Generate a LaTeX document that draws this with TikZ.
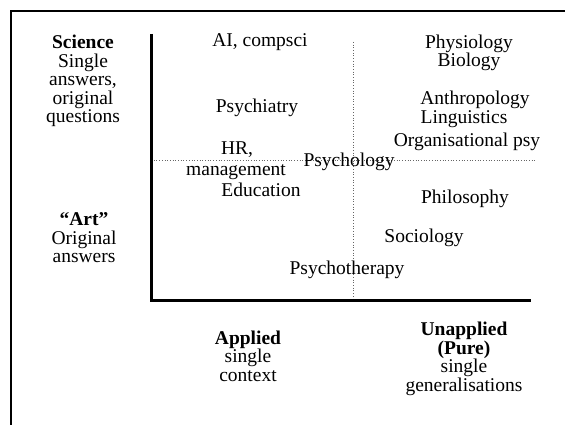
\documentclass[tikz,border=0pt]{standalone}
\usepackage{fontspec}
\setmainfont{Liberation Serif}

\begin{document}
\begin{tikzpicture}[x=1pt,y=-1pt,
        lbl/.style={align=center,inner sep=0pt,font=\fontsize{19.5}{18.5}\selectfont},
        axisline/.style={line width=3pt},
        guide/.style={dotted,line width=0.7pt,black!60}]
        \useasboundingbox (0,0) rectangle (565,425);
        \draw[line width=2pt] (11,425) -- (11,11) -- (565,11);
        \coordinate (ytop) at (151,34);
        \coordinate (origin) at (151,300);
        \coordinate (xend) at (531,300);
        \coordinate (vtop) at (353,42);
        \coordinate (vbot) at (353,300);
        \coordinate (hleft) at (151,160);
        \coordinate (hright) at (536,160);
        \draw[guide] (vtop) -- (vbot);
        \draw[guide] (hleft) -- (hright);
        \draw[axisline] (ytop) -- (origin) -- (xend);
        \node[lbl] (science) at (83,81) {\textbf{Science}\\Single\\answers,\\original\\questions};
        \node[lbl] (art) at (84,238) {\textbf{``Art''}\\Original\\answers};
        \node[lbl] (applied) at (248,356) {\textbf{Applied}\\single\\context};
        \node[lbl] (unapplied) at (464,359) {\textbf{Unapplied}\\\textbf{(Pure)}\\single\\generalisations};
        \foreach \n/\x/\y/\t in {ai/260/42/{AI, compsci},
                phys/469/53/{Physiology\\Biology},
                psychiatry/257/108/Psychiatry,
                anthro/475/100/Anthropology,
                ling/464/119/Linguistics,
                org/467/142/{Organisational psy},
                hr/237/150/{HR,},
                mgmt/236/172/management,
                edu/261/190/Education,
                psychology/349/162/Psychology,
                philo/465/199/Philosophy,
                socio/424/238/Sociology,
                therapy/347/270/Psychotherapy} {
            \node[lbl] (\n) at (\x,\y) {\t};
        }
\end{tikzpicture}
\end{document}
